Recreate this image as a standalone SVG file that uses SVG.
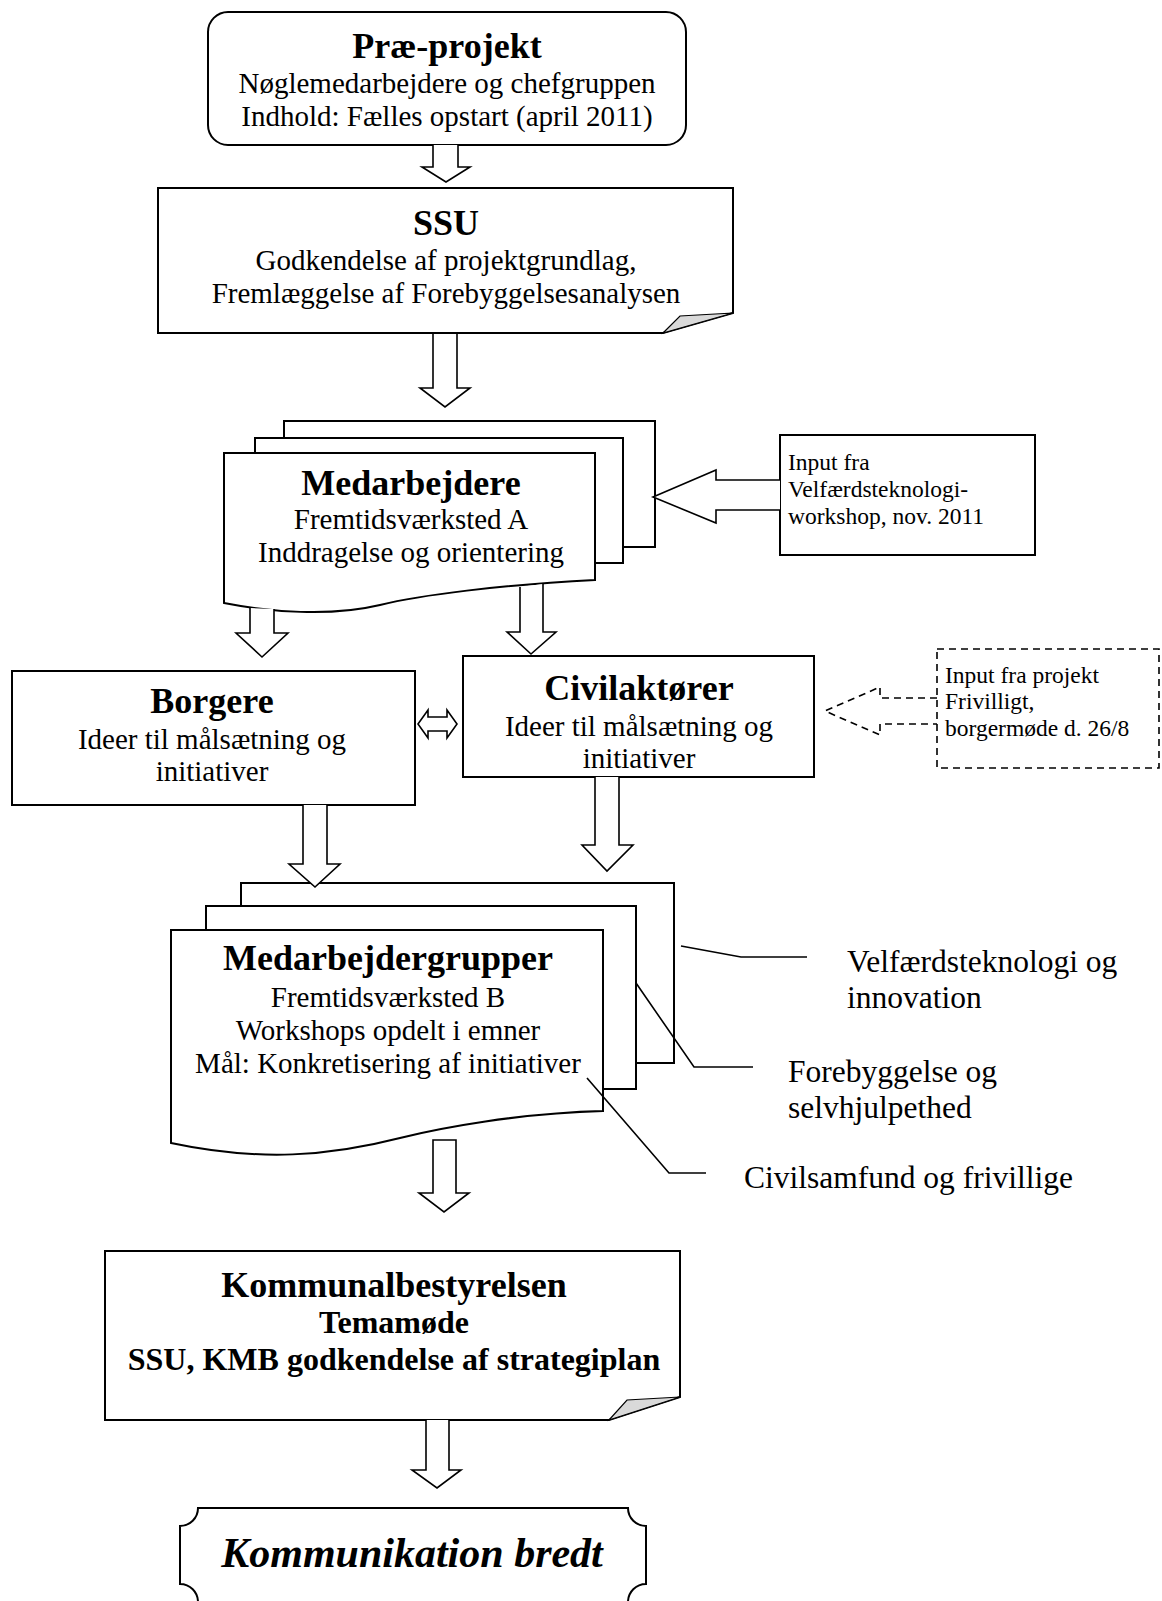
<svg xmlns="http://www.w3.org/2000/svg" width="1162" height="1601" viewBox="0 0 1162 1601">
<style>
.box{fill:#fff;stroke:#000;stroke-width:2}
.arr{fill:#fff;stroke:#000;stroke-width:1.6;stroke-linejoin:miter}
.ln{fill:none;stroke:#000;stroke-width:1.6}
.dash{fill:none;stroke:#000;stroke-width:1.6;stroke-dasharray:7,5}
.fold{fill:#d9d9d9;stroke:#000;stroke-width:1.2}
text{font-family:"Liberation Serif","Times New Roman",serif;fill:#000}
.t{font-size:36px;font-weight:bold;text-anchor:middle}
.b{font-size:29px;text-anchor:middle}
.s{font-size:23.5px}
.l{font-size:31.5px}
.kb{font-size:32px;font-weight:bold;text-anchor:middle}
.it{font-size:42px;font-weight:bold;font-style:italic;text-anchor:middle}
</style>
<rect width="1162" height="1601" fill="#fff"/>

<g id="node-praeprojekt">
<rect class="box" x="208" y="12" width="478" height="133" rx="20"/>
<text class="t" x="447" y="58">Præ-projekt</text>
<text class="b" x="447" y="93">Nøglemedarbejdere og chefgruppen</text>
<text class="b" x="447" y="126">Indhold: Fælles opstart (april 2011)</text>
</g>

<g id="node-ssu">
<path class="box" d="M158,188 H733 V313 L663,333 H158 Z"/>
<path class="fold" d="M663,333 L680,316 L733,313 Z"/>
<text class="t" x="446" y="235">SSU</text>
<text class="b" x="446" y="270">Godkendelse af projektgrundlag,</text>
<text class="b" x="446" y="303">Fremlæggelse af Forebyggelsesanalysen</text>
</g>

<g id="node-medarbejdere">
<rect class="box" x="284" y="421" width="371" height="126"/>
<rect class="box" x="255" y="438" width="368" height="125"/>
<path class="box" d="M224,453 H595 V580 C500,585 420,595 380,605 C330,617 270,612 224,603 Z"/>
<text class="t" x="411" y="495">Medarbejdere</text>
<text class="b" x="411" y="529">Fremtidsværksted A</text>
<text class="b" x="411" y="562">Inddragelse og orientering</text>
</g>

<g id="node-input-velfaerd">
<rect class="box" x="780" y="435" width="255" height="120"/>
<text class="s" x="788" y="470">Input fra</text>
<text class="s" x="788" y="497">Velfærdsteknologi-</text>
<text class="s" x="788" y="524">workshop, nov. 2011</text>
</g>

<g id="node-borgere">
<rect class="box" x="12" y="671" width="403" height="134"/>
<text class="t" x="212" y="713">Borgere</text>
<text class="b" x="212" y="749">Ideer til målsætning og</text>
<text class="b" x="212" y="781">initiativer</text>
</g>

<g id="node-civilaktoerer">
<rect class="box" x="463" y="656" width="351" height="121"/>
<text class="t" x="639" y="700">Civilaktører</text>
<text class="b" x="639" y="736">Ideer til målsætning og</text>
<text class="b" x="639" y="768">initiativer</text>
</g>

<g id="node-input-frivilligt">
<rect class="dash" x="937" y="649" width="222" height="119"/>
<text class="s" x="945" y="683">Input fra projekt</text>
<text class="s" x="945" y="709">Frivilligt,</text>
<text class="s" x="945" y="736">borgermøde d. 26/8</text>
</g>

<g id="node-medarbejdergrupper">
<rect class="box" x="241" y="883" width="433" height="180"/>
<rect class="box" x="206" y="906" width="430" height="183"/>
<path class="box" d="M171,930 H603 V1111 C520,1113 440,1128 400,1138 C330,1156 260,1162 171,1143 Z"/>
<text class="t" x="388" y="970">Medarbejdergrupper</text>
<text class="b" x="388" y="1007">Fremtidsværksted B</text>
<text class="b" x="388" y="1040">Workshops opdelt i emner</text>
<text class="b" x="388" y="1073">Mål: Konkretisering af initiativer</text>
</g>

<g id="label-velfaerd">
<text class="l" x="847" y="972">Velfærdsteknologi og</text>
<text class="l" x="847" y="1008">innovation</text>
</g>
<g id="label-forebyggelse">
<text class="l" x="788" y="1082">Forebyggelse og</text>
<text class="l" x="788" y="1118">selvhjulpethed</text>
</g>
<g id="label-civilsamfund">
<text class="l" x="744" y="1188">Civilsamfund og frivillige</text>
</g>

<g id="node-kommunalbestyrelsen">
<path class="box" d="M105,1251 H680 V1397 L609,1420 H105 Z"/>
<path class="fold" d="M609,1420 L627,1400 L680,1397 Z"/>
<text class="t" x="394" y="1297">Kommunalbestyrelsen</text>
<text class="kb" x="394" y="1333">Temamøde</text>
<text class="kb" x="394" y="1370">SSU, KMB godkendelse af strategiplan</text>
</g>

<g id="node-kommunikation">
<path class="box" d="M198,1508 H628 A18,18 0 0 0 646,1526 V1584 A18,18 0 0 0 628,1602 H198 A18,18 0 0 0 180,1584 V1526 A18,18 0 0 0 198,1508 Z"/>
<text class="it" x="412" y="1567">Kommunikation bredt</text>
</g>

<g id="connectors">
<path class="arr" d="M433,145 V167 H422 L446,182 L470,167 H458 V145"/>
<path class="arr" d="M433,334 V388 H420 L445,407 L470,388 H457 V334"/>
<path class="arr" d="M250,608 V633 H236 L262,657 L288,633 H274 V609"/>
<path class="arr" d="M520,587 V632 H507 L531,654 L556,632 H543 V584"/>
<path class="arr" d="M780,480 H716 V470 L653,497 L716,523 V510 H780"/>
<path class="arr" d="M418,724 L428,710 V717 H447 V710 L457,724 L447,738 V731 H428 V738 Z"/>
<path class="dash" d="M937,698 H880 V687 L825,711 L880,735 V724 H937"/>
<path class="arr" d="M303,805 V864 H289 L315,887 L340,864 H327 V805"/>
<path class="arr" d="M595,777 V845 H582 L607,871 L633,845 H619 V777"/>
<path class="arr" d="M433,1140 V1193 H419 L444,1212 L469,1193 H456 V1140 Z"/>
<path class="arr" d="M426,1420 V1470 H412 L437,1488 L461,1470 H449 V1420"/>
<polyline class="ln" points="681,946 741,957 807,957"/>
<polyline class="ln" points="636,983 694,1067 753,1067"/>
<polyline class="ln" points="587,1078 669,1173 706,1173"/>
</g>
</svg>
